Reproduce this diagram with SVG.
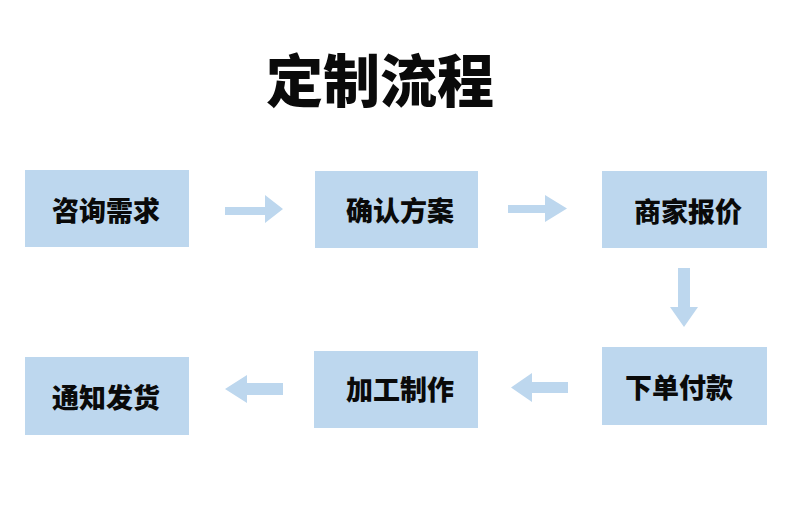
<svg xmlns="http://www.w3.org/2000/svg" width="790" height="528" viewBox="0 0 790 528">
<style>
.box{fill:#BDD7EE}
.arr{fill:#BDD7EE}
.lbl{font-family:"Noto Sans CJK SC","Noto Sans",sans-serif;font-weight:900;font-size:27px;fill:#0a0a0a;text-anchor:middle;dominant-baseline:central}
.title{font-family:"Noto Sans CJK SC","Noto Sans",sans-serif;font-weight:900;font-size:57px;fill:#0a0a0a;text-anchor:middle;dominant-baseline:central}
</style>
<rect width="790" height="528" fill="#fff"/>
<text class="title" x="380" y="77">定制流程</text>
<g id="n1"><rect class="box" x="25" y="170" width="164" height="77"/><text class="lbl" x="106" y="209">咨询需求</text></g>
<g id="n2"><rect class="box" x="315" y="171" width="163" height="77"/><text class="lbl" x="400" y="209">确认方案</text></g>
<g id="n3"><rect class="box" x="602" y="171" width="165" height="77"/><text class="lbl" x="688" y="210">商家报价</text></g>
<g id="n4"><rect class="box" x="602" y="347" width="165" height="78"/><text class="lbl" x="679" y="386">下单付款</text></g>
<g id="n5"><rect class="box" x="314" y="351" width="164" height="77"/><text class="lbl" x="400" y="388">加工制作</text></g>
<g id="n6"><rect class="box" x="25" y="357" width="164" height="78"/><text class="lbl" x="106" y="396">通知发货</text></g>
<g id="connectors">
<polygon class="arr" points="225,207 265,207 265,195 283,209 265,223 265,215 225,215"/>
<polygon class="arr" points="508,205 545,205 545,195 567,208.5 545,222 545,213 508,213"/>
<polygon class="arr" points="678,268 690,268 690,307 698,307 684,327 670,307 678,307"/>
<polygon class="arr" points="568,382 532,382 532,373 511,387.5 532,402 532,393 568,393"/>
<polygon class="arr" points="283,383 247,383 247,375 225,389 247,403 247,395 283,395"/>
</g>
</svg>
